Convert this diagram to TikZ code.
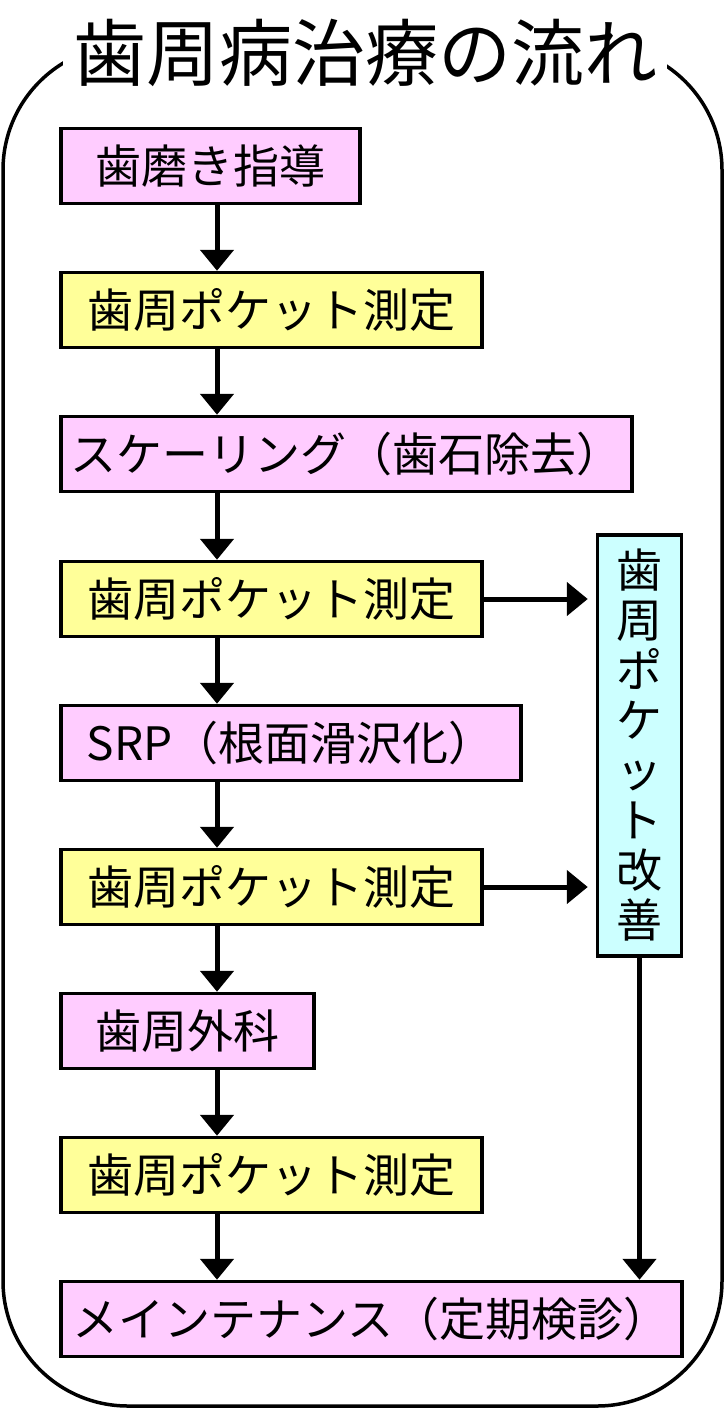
\documentclass[tikz,border=0pt]{standalone}
\usepackage{fontspec}
\setmainfont{Noto Sans CJK JP}
\usetikzlibrary{arrows.meta}

\definecolor{boxpink}{HTML}{FFCCFF}
\definecolor{boxyellow}{HTML}{FFFF99}
\definecolor{boxcyan}{HTML}{CCFFFF}

\begin{document}
\begin{tikzpicture}[x=1pt, y=-1pt,
    box/.style={draw, line width=3.5pt, minimum height=75pt, inner sep=0pt,
      font=\fontsize{46}{50}\selectfont},
    stepbox/.style={box, anchor=west},
    arr/.style={line width=5pt, -{Triangle[length=21pt, width=33pt]}}]

    \useasboundingbox[fill=white] (0,0) rectangle (725,1410);

    % Frame and title
    \draw[line width=3.5pt, rounded corners=125pt] (3,45) rectangle (722,1406);
    \node[fill=white, inner sep=10pt, font=\fontsize{73}{73}\selectfont] (title) at (365,53) {歯周病治療の流れ};

    % Left column
    \node[stepbox, fill=boxpink,   minimum width=299pt] (brush)  at (59,166) {歯磨き指導};
    \node[stepbox, fill=boxyellow, minimum width=421pt] (check1) at (59,310) {歯周ポケット測定};
    \node[stepbox, fill=boxpink,   minimum width=571pt] (scale)  at (59,454) {スケーリング（歯石除去）};
    \node[stepbox, fill=boxyellow, minimum width=421pt] (check2) at (59,599) {歯周ポケット測定};
    \node[stepbox, fill=boxpink,   minimum width=460pt] (srp)    at (59,743) {SRP（根面滑沢化）};
    \node[stepbox, fill=boxyellow, minimum width=421pt] (check3) at (59,887) {歯周ポケット測定};
    \node[stepbox, fill=boxpink,   minimum width=253pt] (surg)   at (59,1031) {歯周外科};
    \node[stepbox, fill=boxyellow, minimum width=421pt] (check4) at (59,1175) {歯周ポケット測定};
    \node[stepbox, fill=boxpink,   minimum width=621pt] (maint)  at (59,1319) {メインテナンス（定期検診）};

    % Right column
    \node[box, fill=boxcyan, minimum width=84pt, minimum height=421pt, align=center] (better) at (639.5,745.5)
      {歯\\周\\ポ\\ケ\\ッ\\ト\\改\\善};

    % Edges
    \coordinate (spine) at (217,0);
    \draw[arr] (brush.south -| spine) -- (check1.north -| spine);
    \draw[arr] (check1.south -| spine) -- (scale.north -| spine);
    \draw[arr] (scale.south -| spine) -- (check2.north -| spine);
    \draw[arr] (check2.south -| spine) -- (srp.north -| spine);
    \draw[arr] (srp.south -| spine) -- (check3.north -| spine);
    \draw[arr] (check3.south -| spine) -- (surg.north -| spine);
    \draw[arr] (surg.south -| spine) -- (check4.north -| spine);
    \draw[arr] (check4.south -| spine) -- (maint.north -| spine);
    \draw[arr, shorten >=8pt] (check2.east) -- (better.west |- check2.east);
    \draw[arr, shorten >=8pt] (check3.east) -- (better.west |- check3.east);
    \draw[arr] (better.south) -- (better.south |- maint.north);

\end{tikzpicture}
\end{document}
